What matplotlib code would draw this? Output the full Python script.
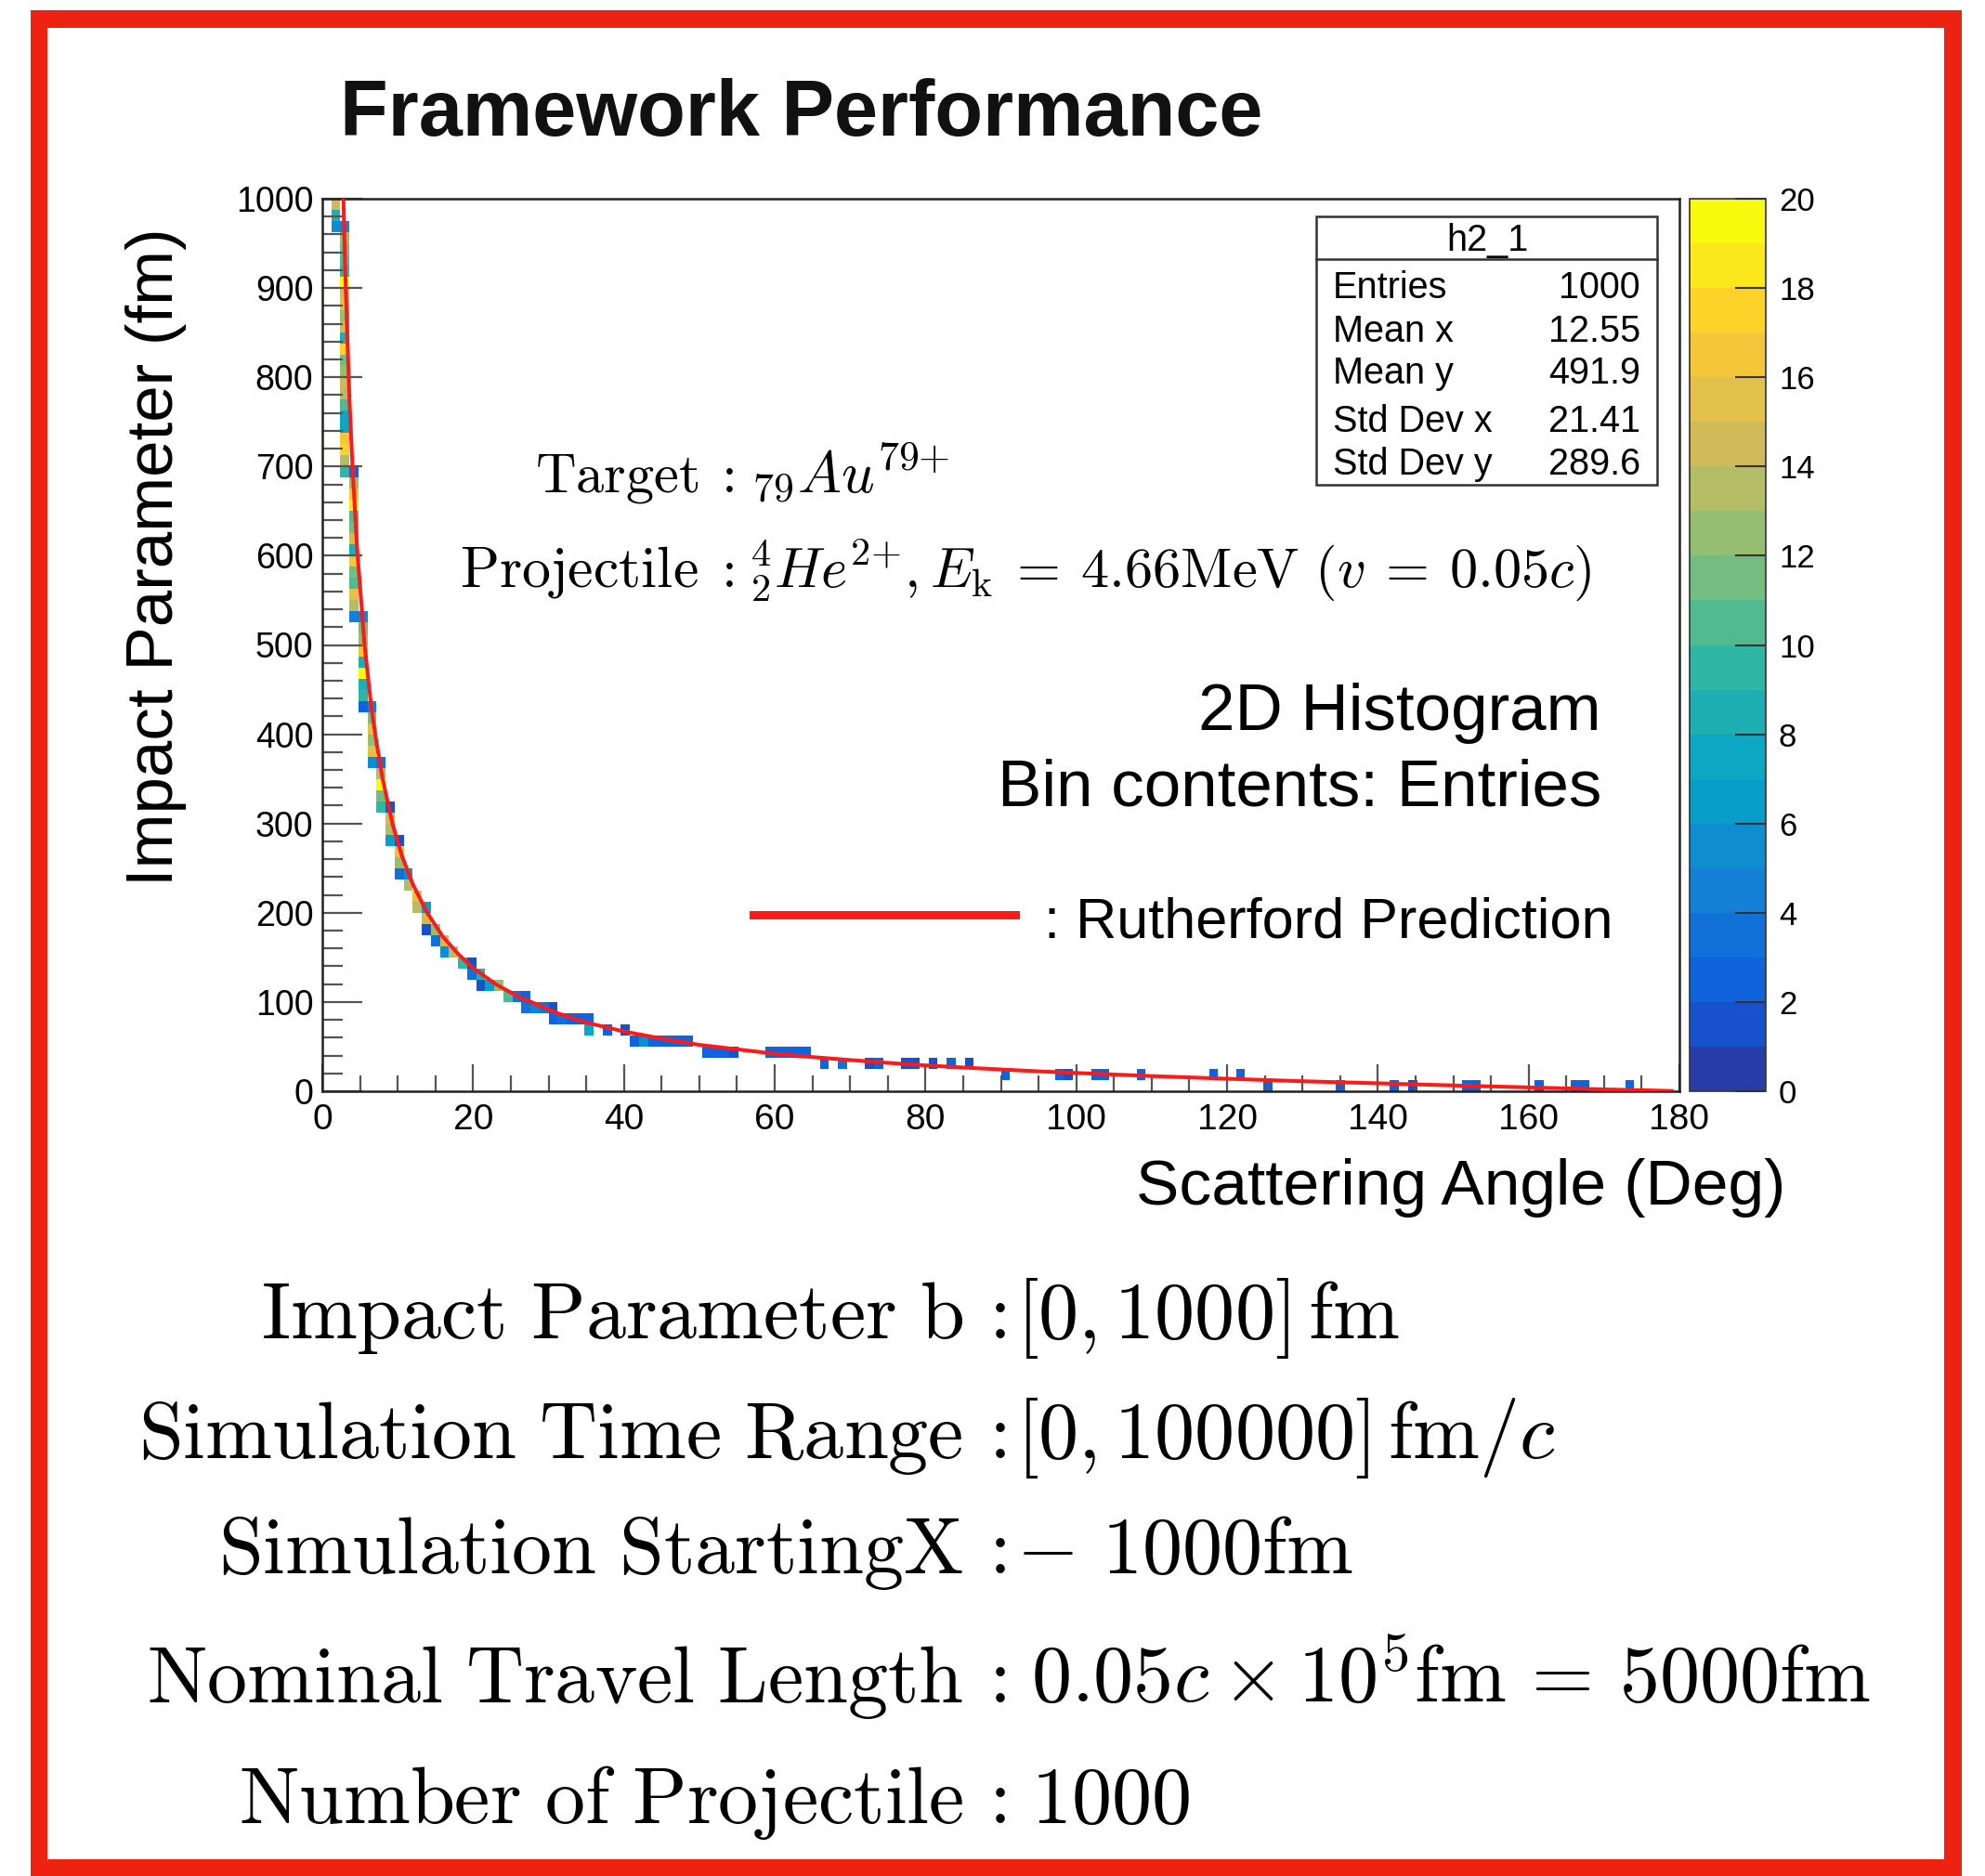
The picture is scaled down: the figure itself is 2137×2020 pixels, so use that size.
import numpy as np
import matplotlib
matplotlib.use("Agg")
import matplotlib.pyplot as plt
from matplotlib.colors import LinearSegmentedColormap, ListedColormap, BoundaryNorm
from matplotlib.patches import Rectangle
from matplotlib.lines import Line2D

plt.rcParams['font.family'] = ['Liberation Sans', 'DejaVu Sans']
plt.rcParams['mathtext.fontset'] = 'cm'

# ---------------- data ----------------
x_range = (0, 180)
n_xbins = 150
y_range = (0, 1000)
n_ybins = 80

# filled histogram cells: x-bin index, y-bin index, entries
hist_xbin = [1, 1, 1, 2,
             2, 2, 2, 2, 2, 2, 2, 2, 2, 2, 2, 2, 2, 2, 2, 2, 2, 2, 2, 2, 2, 2, 3,
             3, 3, 3, 3, 3, 3, 3, 3, 3, 3, 3, 3, 3, 4,
             4, 4, 4, 4, 4, 4, 4, 4, 5,
             5, 5, 5, 5, 5, 6,
             6, 6, 6, 6, 7,
             7, 7, 7, 8,
             8, 8, 8, 9,
             9, 10, 10, 11,
             11, 11, 12,
             12, 13, 13, 14,
             15, 16, 16, 17,
             17, 18, 19,
             20, 21, 22,
             22, 23, 24, 25,
             25, 26, 27, 28, 29,
             29, 31, 33,
             34, 35, 36, 37, 38, 39, 40,
             42, 43, 44, 45, 49, 50, 51, 52, 53,
             55, 57, 60, 61, 64, 65, 67, 69, 71,
             75, 81, 82, 85, 86, 90, 98, 101,
             104, 112, 118, 120, 126, 127, 134, 138, 139, 144]
hist_ybin = [79, 78, 77, 77,
             76, 75, 74, 73, 72, 71, 70, 69, 68, 67, 66, 65, 64, 63, 62, 61, 60, 59, 58, 57, 56, 55, 55,
             54, 53, 52, 51, 50, 49, 48, 47, 46, 45, 44, 43, 42, 42,
             41, 40, 39, 38, 37, 36, 35, 34, 34,
             33, 32, 31, 30, 29, 29,
             28, 27, 26, 25, 25,
             24, 23, 22, 22,
             21, 20, 19, 19,
             18, 17, 16, 16,
             15, 14, 14,
             13, 13, 12, 12,
             11, 11, 10, 10,
             9, 9, 9,
             8, 8, 8,
             7, 7, 7, 7,
             6, 6, 6, 6, 6,
             5, 5, 5,
             4, 4, 4, 4, 4, 4, 4,
             3, 3, 3, 3, 3, 3, 3, 3, 3,
             2, 2, 2, 2, 2, 2, 2, 2, 2,
             1, 1, 1, 1, 1, 1, 1, 1,
             0, 0, 0, 0, 0, 0, 0, 0, 0, 0]
hist_entries = [14, 8, 5, 4,
                12, 11, 10, 9, 19, 14, 15, 12, 14, 8, 17, 11, 12, 14, 13, 10, 7, 7, 16, 17, 13, 9, 2,
                12, 16, 18, 10, 11, 14, 8, 16, 11, 10, 15, 13, 4, 4,
                11, 12, 16, 8, 19, 8, 9, 2, 4,
                11, 15, 12, 15, 5, 3,
                13, 19, 11, 9, 1,
                14, 13, 6, 1,
                15, 12, 3, 5,
                13, 15, 13, 6,
                14, 1, 12,
                3, 14, 5, 13,
                9, 1, 3, 8,
                1, 6, 12,
                10, 3, 2,
                3, 4, 3, 1,
                2, 3, 2, 2, 2,
                7, 2, 1,
                2, 5, 2, 2, 2, 2, 2,
                2, 2, 2, 1, 2, 2, 2, 2, 2,
                2, 3, 1, 2, 1, 1, 1, 2, 1,
                2, 2, 1, 2, 2, 2, 2, 2,
                2, 2, 2, 1, 2, 2, 2, 2, 2, 2]

# Rutherford prediction curve
curve_angle_deg = [2.8, 3.0, 3.3, 3.6, 4.0, 4.6, 5.6, 6.5, 7.2, 8.0, 9.3, 10.5, 12.0,
                   13.9, 16.0, 18.0, 20.0, 23.0, 26.0, 28.0, 31.0, 35.0, 40.0, 45.0,
                   50.0, 55.0, 60.0, 65.0, 70.0, 75.0, 80.0, 85.0, 90.0, 95.0, 100.0,
                   110.0, 120.0, 130.0, 140.0, 150.0, 160.0, 170.0, 179.0]
curve_impact_fm = [1000, 930, 850, 775, 700, 610, 500, 430, 390, 350, 300, 265, 232,
                   200, 173, 154, 138, 120, 106, 99, 88, 77, 67, 59,
                   52, 47, 42, 38.3, 35, 31.8, 29, 26.6, 24.4, 22.3, 20.5,
                   17, 14, 11.2, 8.9, 6.5, 4.3, 2.1, 0.3]

stats_title = "h2_1"
stats_labels = ["Entries", "Mean x", "Mean y", "Std Dev x", "Std Dev y"]
stats_values = ["1000", "12.55", "491.9", "21.41", "289.6"]

x_ticks = list(range(0, 181, 20))
y_ticks = list(range(0, 1001, 100))
z_ticks = list(range(0, 21, 2))
z_levels = 20

bottom_left = [r"$\mathrm{Impact\ Parameter\ b}$",
               r"$\mathrm{Simulation\ Time\ Range}$",
               r"$\mathrm{Simulation\ StartingX}$",
               r"$\mathrm{Nominal\ Travel\ Length}$",
               r"$\mathrm{Number\ of\ Projectile}$"]
bottom_right = [r"$[0,1000]\,\mathrm{fm}$",
                r"$[0,100000]\,\mathrm{fm}/c$",
                r"$-\ 1000\mathrm{fm}$",
                r"$0.05c\times10^{5}\mathrm{fm}\,=\,5000\mathrm{fm}$",
                r"$1000$"]

# ---------------- figure ----------------
W, H, DPI = 2137, 2020, 100
fig = plt.figure(figsize=(W / DPI, H / DPI), dpi=DPI)
fig.patch.set_facecolor('white')


def fx(px):
    return px / W


def fy(py):
    return 1 - py / H


RED = '#EE2210'
LINE_RED = '#FF1A1A'

# red frame
for (x0, y0, x1, y1) in [(33, 11, 2112, 30), (33, 11, 51, 2020),
                         (2093, 11, 2112, 2020), (33, 2002, 2112, 2020)]:
    fig.add_artist(Rectangle((fx(x0), fy(y1)), fx(x1) - fx(x0), fy(y0) - fy(y1),
                             transform=fig.transFigure, facecolor=RED,
                             edgecolor='none', zorder=10))

# ROOT "bird" palette, 20 contour bands
bird_stops = [0.0, 0.125, 0.25, 0.375, 0.5, 0.625, 0.75, 0.875, 1.0]
bird_r = [0.2082, 0.0592, 0.0780, 0.0232, 0.1802, 0.5301, 0.8186, 0.9956, 0.9764]
bird_g = [0.1664, 0.3599, 0.5041, 0.6419, 0.7178, 0.7492, 0.7328, 0.7862, 0.9832]
bird_b = [0.5293, 0.8684, 0.8385, 0.7914, 0.6425, 0.4662, 0.3499, 0.1968, 0.0539]
bird = LinearSegmentedColormap.from_list(
    'bird', list(zip(bird_stops, zip(bird_r, bird_g, bird_b))), N=255)
band_colors = [bird(int((k + 0.99) * 255 / z_levels) / 254) for k in range(z_levels)]
cmap = ListedColormap(band_colors)
norm = BoundaryNorm(np.linspace(0, 20, z_levels + 1), z_levels)

ax = fig.add_axes([fx(347), fy(1175), fx(1808) - fx(347), fy(214) - fy(1175)])
counts = np.zeros((n_ybins, n_xbins))
for i, j, n in zip(hist_xbin, hist_ybin, hist_entries):
    counts[j, i] = n
xe = np.linspace(x_range[0], x_range[1], n_xbins + 1)
ye = np.linspace(y_range[0], y_range[1], n_ybins + 1)
mesh = ax.pcolormesh(xe, ye, np.ma.masked_equal(counts, 0), cmap=cmap, norm=norm,
                     shading='flat', edgecolors='none', antialiased=False, zorder=1)
ax.plot(curve_angle_deg, curve_impact_fm, color=LINE_RED, lw=2.9, zorder=3)

ax.set_xlim(*x_range)
ax.set_ylim(*y_range)
ax.set_xticks(x_ticks)
ax.set_xticks(np.arange(0, 181, 5), minor=True)
ax.set_yticks(y_ticks)
ax.set_yticks(np.arange(0, 1001, 20), minor=True)
ax.tick_params(axis='x', which='major', direction='in', length=21, width=1.6,
               color='#555555', labelsize=28, pad=9, top=False)
ax.tick_params(axis='x', which='minor', direction='in', length=12, width=1.6,
               color='#555555', top=False)
ax.tick_params(axis='y', which='major', direction='in', length=31, width=1.6,
               color='#555555', labelsize=27, pad=7, right=False)
ax.tick_params(axis='y', which='minor', direction='in', length=16, width=1.6,
               color='#555555', right=False)
for s in ax.spines.values():
    s.set_linewidth(1.8)
    s.set_color('#222222')

# colorbar
cax = fig.add_axes([fx(1819), fy(1175), fx(1901) - fx(1819), fy(214) - fy(1175)])
cb = fig.colorbar(mesh, cax=cax, ticks=z_ticks, spacing='proportional')
cb.outline.set_linewidth(1.2)
cb.outline.set_edgecolor('#333333')
cax.tick_params(direction='in', length=24, width=1.5, color='#333333',
                labelsize=25, pad=10, right=True, left=False)
cb.minorticks_off()

# title
fig.text(fx(863), fy(146), "Framework Performance", ha='center', va='baseline',
         fontsize=61, fontweight='bold', color='#111111')

# axis labels
fig.text(fx(1922), fy(1297), "Scattering Angle (Deg)", ha='right', va='baseline',
         fontsize=50)
fig.text(fx(168), fy(600), "Impact Parameter (fm)", ha='center', va='center',
         rotation=90, fontsize=51)

# stats box
fig.add_artist(Rectangle((fx(1417), fy(522)), fx(1784) - fx(1417), fy(233) - fy(522),
                         transform=fig.transFigure, facecolor='white',
                         edgecolor='#333333', lw=1.8, zorder=5))
fig.add_artist(Line2D([fx(1417), fx(1784)], [fy(279), fy(279)],
                      transform=fig.transFigure, color='#333333', lw=1.8, zorder=6))
fig.text(fx(1601), fy(270), stats_title, ha='center', va='baseline', fontsize=28.5,
         zorder=7)
for lab, val, yb in zip(stats_labels, stats_values, [321, 368, 413, 465, 511]):
    fig.text(fx(1435), fy(yb), lab, ha='left', va='baseline', fontsize=28.5, zorder=7)
    fig.text(fx(1766), fy(yb), val, ha='right', va='baseline', fontsize=28.5, zorder=7)

# target / projectile annotation
fig.text(fx(752), fy(530), r"$\mathrm{Target}$", ha='right', va='baseline', fontsize=43.5)
fig.text(fx(778), fy(530), r"$:$", ha='center', va='baseline', fontsize=43.5)
fig.text(fx(808), fy(530), r"${}_{79}Au^{79{+}}$", ha='left', va='baseline', fontsize=45)
fig.text(fx(752), fy(632), r"$\mathrm{Projectile}$", ha='right', va='baseline',
         fontsize=44.5)
fig.text(fx(778), fy(632), r"$:$", ha='center', va='baseline', fontsize=43.5)
fig.text(fx(806), fy(632),
         r"${}^{4}_{2}He^{2{+}},E_{\mathrm{k}}\:=\:4.66\mathrm{MeV}\ (v\:=\:0.05c)$",
         ha='left', va='baseline', fontsize=43.5)

fig.text(fx(1724), fy(786), "2D Histogram", ha='right', va='baseline', fontsize=51)
fig.text(fx(1724), fy(868), "Bin contents: Entries", ha='right', va='baseline',
         fontsize=51)

# legend
fig.add_artist(Line2D([fx(811), fx(1093)], [fy(985), fy(985)],
                      transform=fig.transFigure, color=LINE_RED, lw=6.5))
fig.text(fx(1124), fy(1009), ": Rutherford Prediction", ha='left', va='baseline',
         fontsize=44)

# bottom parameter block
right_x = [1094, 1094, 1094, 1110, 1110]
for left, right, yb, rx in zip(bottom_left, bottom_right,
                               [1441, 1570, 1694, 1833, 1963], right_x):
    fig.text(fx(1037), fy(yb), left, ha='right', va='baseline', fontsize=62)
    fig.text(fx(1066), fy(yb), r"$:$", ha='center', va='baseline', fontsize=62)
    fig.text(fx(rx), fy(yb), right, ha='left', va='baseline', fontsize=62)

fig.savefig("out.png", dpi=DPI)
